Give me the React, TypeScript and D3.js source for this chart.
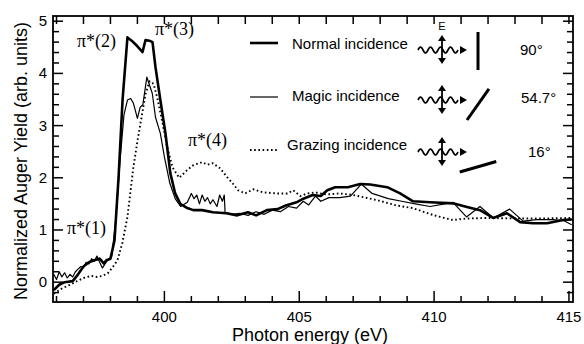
import React from "react";
import * as d3 from "d3";

// ---- data (photon energy eV, normalized yield) ----
const normalE = [395.9,396.1,396.3,396.6,396.8,397.0,397.2,397.4,397.6,397.75,397.85,398.0,398.15,398.3,398.45,398.63,398.8,399.0,399.19,399.3,399.48,399.56,399.67,399.85,400.04,400.22,400.4,400.59,400.85,401.07,401.4,401.8,402.3,402.7,403.1,403.4,403.8,404.2,404.5,404.9,405.15,405.5,405.8,406.04,406.33,406.8,407.26,407.63,408.26,408.74,409.22,409.85,410.7,411.22,411.7,412.19,412.7,413.19,413.67,414.19,414.78,415.1];
const normalY = [-0.15,-0.05,0.0,0.02,0.15,0.3,0.38,0.42,0.45,0.36,0.42,0.45,0.8,2.0,3.5,4.69,4.62,4.52,4.41,4.64,4.62,4.6,4.12,3.49,2.85,2.09,1.7,1.5,1.42,1.38,1.38,1.34,1.32,1.28,1.34,1.28,1.38,1.4,1.47,1.53,1.6,1.67,1.65,1.76,1.82,1.82,1.88,1.87,1.82,1.7,1.55,1.53,1.51,1.44,1.38,1.23,1.32,1.15,1.13,1.13,1.19,1.2];

const magicE = [395.9,396.0,396.1,396.2,396.3,396.4,396.5,396.6,396.7,396.8,396.9,397.0,397.1,397.2,397.3,397.4,397.5,397.6,397.7,397.8,397.9,398.05,398.2,398.35,398.5,398.63,398.75,398.85,399.0,399.1,399.2,399.35,399.4,399.55,399.67,399.85,400.0,400.2,400.4,400.6,400.85,401.0,401.1,401.2,401.3,401.4,401.5,401.6,401.7,401.8,401.95,402.05,402.15,402.22,402.25,402.5,402.8,403.1,403.4,403.7,404.0,404.3,404.6,404.9,405.15,405.35,405.6,405.8,406.1,406.5,406.9,407.3,407.7,408.3,408.8,409.3,409.85,410.4,410.7,411.2,411.7,412.2,412.8,413.3,413.8,414.4,414.8,415.1];
const magicY = [0.15,0.05,0.2,0.1,0.18,0.08,0.15,0.1,0.2,0.25,0.3,0.28,0.38,0.35,0.45,0.4,0.5,0.38,0.27,0.35,0.42,0.5,1.2,2.3,3.2,3.49,3.52,3.43,3.14,3.35,3.4,3.93,3.85,3.62,3.16,2.85,2.4,1.9,1.6,1.45,1.53,1.7,1.6,1.67,1.5,1.67,1.55,1.62,1.5,1.58,1.45,1.67,1.55,1.67,1.34,1.3,1.32,1.28,1.35,1.3,1.38,1.35,1.45,1.42,1.55,1.48,1.65,1.55,1.62,1.62,1.65,1.88,1.7,1.6,1.55,1.5,1.45,1.5,1.53,1.25,1.45,1.23,1.4,1.17,1.2,1.2,1.18,1.1];

const grazingE = [395.9,396.2,396.5,396.8,397.0,397.3,397.5,397.7,397.9,398.1,398.26,398.44,398.63,398.85,399.0,399.2,399.3,399.45,399.6,399.75,399.95,400.1,400.3,400.55,400.85,401.07,401.4,401.6,401.8,402.07,402.33,402.52,402.74,403.0,403.3,403.67,404.19,404.56,404.78,405.04,405.3,405.6,406.0,406.5,407.0,407.9,408.6,409.2,410.0,410.7,411.2,412.0,413.0,414.0,415.1];
const grazingY = [-0.22,-0.12,-0.05,0.03,0.08,0.12,0.1,0.12,0.17,0.3,0.42,0.75,1.25,2.2,2.7,3.3,3.6,3.85,3.8,3.5,3.0,2.6,2.2,2.0,2.15,2.24,2.3,2.25,2.28,2.18,2.01,1.9,1.76,1.7,1.78,1.72,1.7,1.7,1.76,1.65,1.7,1.72,1.68,1.7,1.67,1.57,1.47,1.42,1.28,1.19,1.22,1.23,1.22,1.22,1.23];

const xMajorTicks = [400, 405, 410, 415];
const xMinorTicks = d3.range(396, 416, 1);
const yMajorTicks = [0, 1, 2, 3, 4, 5];
const yMinorTicks = d3.range(-0.2, 5.01, 0.2);

const legendLabels = ["Normal incidence", "Magic incidence", "Grazing incidence"];
const legendAngles = [90, 54.7, 16];
const angleLabels = ["90°", "54.7°", "16°"];

const peakLabels = ["π*(1)", "π*(2)", "π*(3)", "π*(4)"];

// ---- layout ----
const W = 584, H = 344;
const L = 53, R = 573, T = 16, B = 302;
const SANS = "'Liberation Sans', Arial, sans-serif";
const SERIF = "'Liberation Serif', 'Times New Roman', serif";

const styles = [
  { w: 2.6, dash: undefined as string | undefined },
  { w: 1.2, dash: undefined as string | undefined },
  { w: 1.9, dash: "1.6 2.6" },
];

export default function App() {
  const x = d3.scaleLinear().domain([395.87, 415.15]).range([L, R]);
  const y = d3.scaleLinear().domain([-0.38, 5.1]).range([B, T]);
  const line = d3.line<[number, number]>().x(d => x(d[0])).y(d => y(d[1]));
  const series = [
    d3.zip(normalE, normalY) as [number, number][],
    d3.zip(magicE, magicY) as [number, number][],
    d3.zip(grazingE, grazingY) as [number, number][],
  ];

  const peakPos = [
    { x: 67, y: 234 },
    { x: 77, y: 47 },
    { x: 155, y: 35 },
    { x: 188, y: 146 },
  ];

  const rowY = [50, 100, 152];
  const textX = [292, 292, 287];
  const textBase = [49, 101, 150];
  const sampleY = [43, 97, 150];
  const angleX = [520, 521, 528];
  const angleBase = [55, 103, 157];

  const squiggle = (cy: number) => {
    const pts: [number, number][] = d3.range(0, 41, 1).map(i => [418 + i, cy + 3 * Math.sin((i / 10) * 2 * Math.PI + Math.PI)] as [number, number]);
    return d3.line().curve(d3.curveBasis)(pts) || "";
  };

  return (
    <svg width={W} height={H} style={{ position: "absolute", left: 0, top: 0, background: "#fff" }}>
      <defs>
        <clipPath id="plot"><rect x={L} y={T} width={R - L} height={B - T} /></clipPath>
      </defs>
      {/* data */}
      <g clipPath="url(#plot)" fill="none" stroke="#000" strokeLinejoin="round">
        {series.map((s, i) => (
          <path key={i} d={line(s) || ""} strokeWidth={styles[i].w} strokeDasharray={styles[i].dash} />
        ))}
      </g>
      {/* frame */}
      <rect x={L} y={T} width={R - L} height={B - T} fill="none" stroke="#000" strokeWidth={1.8} />
      {/* ticks */}
      <g stroke="#000" strokeWidth={1.5}>
        {xMinorTicks.map(t => {
          const major = xMajorTicks.includes(t);
          return (
            <g key={t}>
              <line x1={x(t)} x2={x(t)} y1={B} y2={B - (major ? 11 : 6)} />
              <line x1={x(t)} x2={x(t)} y1={T} y2={T + 8} />
            </g>
          );
        })}
        {yMinorTicks.map(t => {
          const major = Math.abs(t - Math.round(t)) < 1e-6;
          return (
            <g key={t.toFixed(1)}>
              <line x1={L} x2={L + (major ? 10 : 6)} y1={y(t)} y2={y(t)} />
              <line x1={R} x2={R - (major ? 10 : 6)} y1={y(t)} y2={y(t)} />
            </g>
          );
        })}
      </g>
      <g fontFamily={SANS} fontSize={15} fill="#000">
        {xMajorTicks.map(t => (
          <text key={t} x={x(t)} y={322} textAnchor="middle">{t}</text>
        ))}
        {yMajorTicks.map(t => (
          <text key={t} x={47} y={y(t) + 5} textAnchor="end">{t}</text>
        ))}
      </g>
      <text x={(L + R) / 2 - 3} y={341} textAnchor="middle" fontFamily={SANS} fontSize={18}>Photon energy (eV)</text>
      <text transform={`translate(27,${161}) rotate(-90)`} textAnchor="middle" fontFamily={SANS} fontSize={18}>Normalized Auger Yield (arb. units)</text>
      {/* peak labels */}
      <g fontFamily={SERIF} fontSize={18}>
        {peakLabels.map((p, i) => (
          <text key={p} x={peakPos[i].x} y={peakPos[i].y}>{p}</text>
        ))}
      </g>
      {/* legend */}
      <g fontFamily={SANS} fontSize={15}>
        {legendLabels.map((lab, i) => {
          const cy = rowY[i];
          const th = (legendAngles[i] * Math.PI) / 180;
          const cx = 478, yl = cy + 20;
          return (
            <g key={lab}>
              <line x1={250} x2={278} y1={sampleY[i]} y2={sampleY[i]} stroke="#000" strokeWidth={styles[i].w} strokeDasharray={styles[i].dash} />
              <text x={textX[i]} y={textBase[i]}>{lab}</text>
              <path d={squiggle(cy)} fill="none" stroke="#000" strokeWidth={1.7} />
              <path d={`M460,${cy - 4}L467,${cy}L460,${cy + 4}Z`} fill="#000" />
              <line x1={442} x2={442} y1={cy - 10} y2={cy + 9} stroke="#000" strokeWidth={1.8} />
              <path d={`M438,${cy - 9}L442,${cy - 15}L446,${cy - 9}Z`} fill="#000" />
              <path d={`M438,${cy + 8}L442,${cy + 14}L446,${cy + 8}Z`} fill="#000" />
              <line x1={cx - 19 * Math.cos(th)} y1={yl} x2={cx + 19 * Math.cos(th)} y2={yl - 38 * Math.sin(th)} stroke="#000" strokeWidth={3} />
              <text x={angleX[i]} y={angleBase[i]}>{angleLabels[i]}</text>
            </g>
          );
        })}
        <text x={442} y={30} fontSize={11} textAnchor="middle">E</text>
      </g>
    </svg>
  );
}
